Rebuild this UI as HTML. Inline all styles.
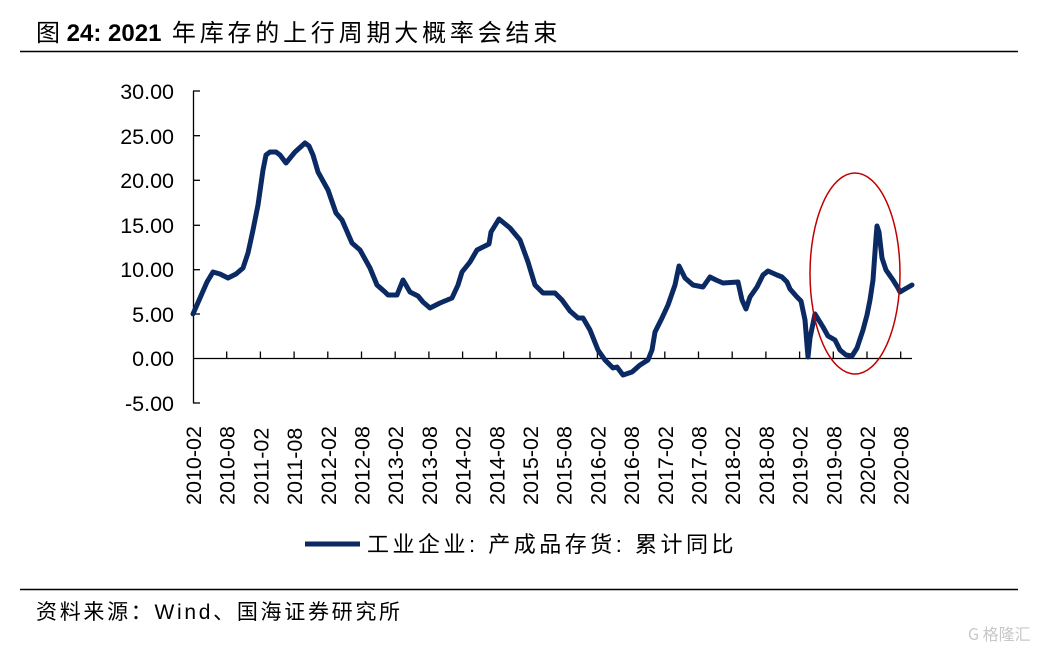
<!DOCTYPE html>
<html><head><meta charset="utf-8"><style>
html,body{margin:0;padding:0;background:#fff;}
body{width:1046px;height:649px;position:relative;overflow:hidden;font-family:"Liberation Sans","Noto Sans CJK SC",sans-serif;}
</style></head><body>
<svg width="1046" height="649" viewBox="0 0 1046 649" xmlns="http://www.w3.org/2000/svg" style="position:absolute;left:0;top:0">
<text x="36" y="41" font-family="Liberation Sans, Noto Sans CJK SC, sans-serif" font-size="24" fill="#000"><tspan>图 </tspan><tspan font-weight="bold">24:  2021</tspan><tspan letter-spacing="3.8"> 年库存的上行周期大概率会结束</tspan></text>
<line x1="20" y1="51.5" x2="1018" y2="51.5" stroke="#000" stroke-width="1.5"/>
<g font-family="Liberation Sans, sans-serif" font-size="21.5" fill="#000" text-anchor="end">
<text x="174" y="99">30.00</text>
<text x="174" y="144">25.00</text>
<text x="174" y="188">20.00</text>
<text x="174" y="233">15.00</text>
<text x="174" y="277">10.00</text>
<text x="174" y="322">5.00</text>
<text x="174" y="366">0.00</text>
<text x="174" y="411">-5.00</text>
</g>
<g stroke="#000" stroke-width="1.3">
<line x1="193.5" y1="91" x2="193.5" y2="403"/>
<line x1="193" y1="91" x2="200" y2="91"/>
<line x1="193" y1="135.7" x2="200" y2="135.7"/>
<line x1="193" y1="180.3" x2="200" y2="180.3"/>
<line x1="193" y1="225.3" x2="200" y2="225.3"/>
<line x1="193" y1="269.7" x2="200" y2="269.7"/>
<line x1="193" y1="314" x2="200" y2="314"/>
<line x1="193" y1="403" x2="200" y2="403"/>
<line x1="193" y1="358.5" x2="912" y2="358.5"/>
</g>
<g id="ticks" stroke="#000" stroke-width="1.3"></g>
<g id="xl" font-family="Liberation Sans, sans-serif" font-size="21.5" fill="#000"></g>
<polyline fill="none" stroke="#0b2a63" stroke-width="5" stroke-linejoin="round" stroke-linecap="round" points="193,314 207,282 213,272 220,274 228,278 236,274 243,268 248,253 253,230 258,205 263,170 266,155 270,152 276,152 280,155 286,163 295,152 305,143 309,146 313,155 318,172 328,190 336,213 342,220 352,243 360,250 370,268 377,285 385,292 388,295 397,295 403,280 410,292 418,296 423,302 430,308 440,303 452,298 458,285 462,272 470,262 477,250 485,246 489,244 491,232 499,219 510,228 520,240 528,262 535,285 543,293 555,293 562,300 570,311 578,318 583,318 590,330 598,350 605,360 613,368 617,367 623,375 632,372 640,365 648,360 652,350 655,332 662,318 668,305 675,285 679,266 685,278 693,285 703,287 710,277 716,280 723,283 738,282 742,300 746,309 750,297 757,287 763,275 768,271 777,275 782,277 787,282 790,289 797,297 801,301 805,320 807,345 808,357 810,338 815,314 823,327 828,336 835,340 840,350 846,355 852,356 857,348 863,330 867,315 870,300 873,280 876,238 877,226 879,232 882,258 886,270 893,280 898,288 900,292 905,289 912,285"/>
<ellipse cx="855" cy="273.5" rx="45" ry="100.5" fill="none" stroke="#c00000" stroke-width="1.5"/>
<line x1="305" y1="544" x2="360" y2="544" stroke="#0b2a63" stroke-width="5"/>
<text x="367" y="552" font-family="Liberation Sans, Noto Sans CJK SC, sans-serif" font-size="22" fill="#000" letter-spacing="3.5">工业企业: 产成品存货: 累计同比</text>
<line x1="20" y1="589.5" x2="1018" y2="589.5" stroke="#000" stroke-width="1.5"/>
<text x="36" y="619" font-family="Liberation Sans, Noto Sans CJK SC, sans-serif" font-size="21" fill="#000" letter-spacing="2.7">资料来源：Wind、国海证券研究所</text>
<text x="968" y="640" font-family="Noto Sans CJK SC, sans-serif" font-size="16" fill="#c8c8c8">G 格隆汇</text>
</svg>
<script>
var t=document.getElementById('ticks'),xl=document.getElementById('xl');
var labs=[];for(var y=2010;y<=2020;y++){labs.push(y+'-02');labs.push(y+'-08');}
var ns='http://www.w3.org/2000/svg';
for(var i=0;i<22;i++){var x=193+i*33.7;
if(i>0){var l=document.createElementNS(ns,'line');l.setAttribute('x1',x);l.setAttribute('x2',x);l.setAttribute('y1',351.5);l.setAttribute('y2',358.5);t.appendChild(l);}
var tx=document.createElementNS(ns,'text');tx.setAttribute('transform','translate('+(x+8)+',505) rotate(-90)');tx.textContent=labs[i];xl.appendChild(tx);}
</script>
</body></html>
